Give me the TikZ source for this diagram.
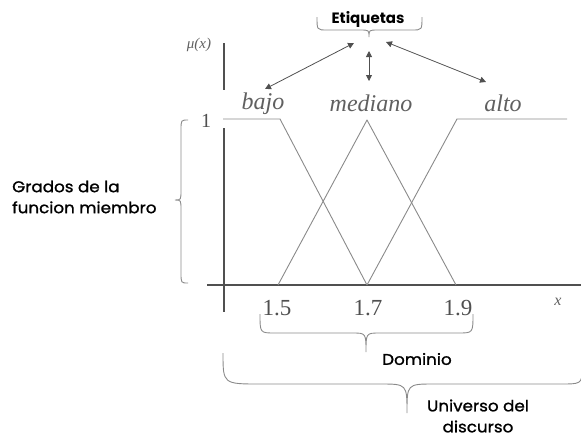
\documentclass[tikz,border=0pt]{standalone}
\usepackage{fontspec}
\setmainfont{Liberation Serif}
\newfontfamily\lblfont[FakeBold=1.2,FakeStretch=1.08]{Poppins}
\newfontfamily\lblfontb{Poppins}
\usetikzlibrary{arrows.meta}
\definecolor{mfgray}{HTML}{8A8A8A}
\definecolor{axgray}{HTML}{505050}
\definecolor{txtgray}{HTML}{606060}
\tikzset{
  mfline/.style={draw=mfgray, line width=0.9pt, line join=round},
  axline/.style={draw=axgray, line width=1.6pt},
  bracel/.style={draw=mfgray, line width=0.9pt},
  ital/.style={text=txtgray, font=\fontsize{24}{24}\selectfont\itshape, inner sep=0pt},
  tick/.style={text=axgray, font=\fontsize{23}{23}\selectfont, inner sep=0pt},
  sanslbl/.style={text=black, font=\lblfont\fontsize{15.5}{21}\selectfont, inner sep=0pt, align=center},
  arr/.style={draw=axgray, line width=0.8pt, {Triangle[length=6pt,width=6pt]}-{Triangle[length=6pt,width=6pt]}}
}
\begin{document}
\begin{tikzpicture}[x=1pt,y=-1pt]
\useasboundingbox (0,0) rectangle (581,437);
% axes
\draw[axline] (224,43) -- (224,90);
\draw[axline] (224,128) -- (224,312);
\draw[axline] (207,285) -- (581,285);
% membership functions
\draw[mfline] (223,119) -- (280,119) -- (367,285);
\draw[mfline] (278,285) -- (367,120) -- (456,285);
\draw[mfline] (367,285) -- (457,119) -- (567,119);
% axis labels
\node[text=txtgray, font=\fontsize{15}{15}\selectfont\itshape, inner sep=0pt] (mu) at (199,45) {μ(x)};
\node[tick, font=\fontsize{20}{20}\selectfont] (one) at (206,121) {1};
\node[tick] (t15) at (277,308) {1.5};
\node[tick] (t17) at (368,308) {1.7};
\node[tick] (t19) at (458,308) {1.9};
\node[text=txtgray, font=\fontsize{16}{16}\selectfont\itshape, inner sep=0pt] (xl) at (558,302) {x};
% linguistic labels
\node[ital] (bajo) at (263,104) {bajo};
\node[ital] (med) at (371,103) {mediano};
\node[ital] (alto) at (503,103) {alto};
% Etiquetas
\node[text=black, inner sep=0pt, font=\lblfontb\bfseries\fontsize{15}{17}\selectfont] (etiq) at (368,19) {Etiquetas};
\draw[bracel] (317,17) .. controls (317,30) and (317,30) .. (327,30) -- (360,30)
  .. controls (369,30) and (369,30) .. (369,37) .. controls (369,30) and (369,30) .. (378,30)
  -- (412,30) .. controls (422,30) and (422,30) .. (422,17);
\coordinate (aL) at (354,43);
\coordinate (aC1) at (369,51);
\coordinate (aR) at (386,42);
\coordinate (bL) at (265,89);
\coordinate (bC) at (369,81);
\coordinate (bR) at (486,82);
\draw[arr] (aL) -- (bL);
\draw[arr] (aC1) -- (bC);
\draw[arr] (aR) -- (bR);
% left brace
\draw[bracel] (188,120) .. controls (181,120) and (181,120) .. (181,130) -- (181,190)
  .. controls (181,200) and (181,200) .. (175,200) .. controls (181,200) and (181,200) .. (181,210)
  -- (181,273) .. controls (181,283) and (181,283) .. (188,283);
\node[sanslbl, align=left, anchor=west] (grados) at (12,197) {Grados de la\\funcion miembro};
% Dominio brace
\draw[bracel] (260,314) .. controls (260,333) and (260,333) .. (275,333) -- (352,333)
  .. controls (366,333) and (366,333) .. (366,352) .. controls (366,333) and (366,333) .. (380,333)
  -- (458,333) .. controls (473,333) and (473,333) .. (473,314);
\node[sanslbl] (dom) at (417,359) {Dominio};
% Universo brace
\draw[bracel] (223,353) .. controls (223,384) and (223,384) .. (260,384) -- (380,384)
  .. controls (407,384) and (407,384) .. (407,413) .. controls (407,384) and (407,384) .. (434,384)
  -- (560,384) .. controls (581,384) and (581,384) .. (583,370);
\node[sanslbl] (univ) at (478,416) {Universo del\\discurso};
\end{tikzpicture}
\end{document}
